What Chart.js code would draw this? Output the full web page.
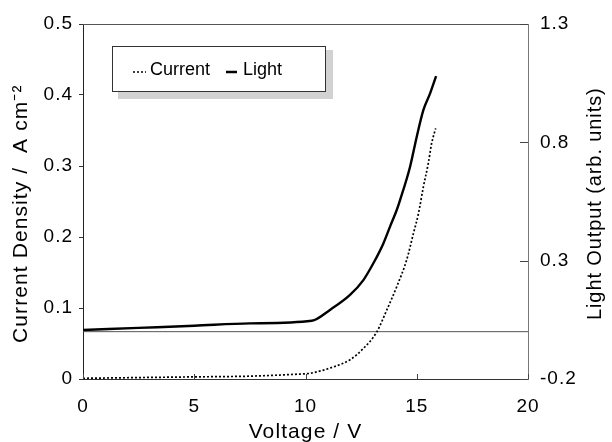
<!DOCTYPE html>
<html><head><meta charset="utf-8">
<script src="https://cdn.jsdelivr.net/npm/chart.js@4/dist/chart.umd.min.js"></script>
<style>html,body{margin:0;padding:0;background:#fff}#wrap{width:612px;height:442px}</style>
</head><body><div id="wrap"><canvas id="c" width="612" height="442"></canvas></div>
<script>
const currentVoltage = [0, 2.5, 5, 7.5, 9.75, 10.2, 11.25, 12.0, 12.6, 13.2, 13.65, 14.1, 14.55, 14.85, 15.07, 15.3, 15.52, 15.67, 15.85];
const currentDensity = [0.001, 0.002, 0.003, 0.004, 0.007, 0.008, 0.017, 0.027, 0.043, 0.066, 0.097, 0.13, 0.168, 0.205, 0.232, 0.271, 0.304, 0.332, 0.353];
const lightVoltage = [0, 2.5, 5, 7.5, 10.28, 11.1, 12.0, 12.6, 13.05, 13.5, 13.8, 14.1, 14.25, 14.7, 15.0, 15.3, 15.6, 15.87];
const lightOutput = [0.007, 0.016, 0.025, 0.035, 0.046, 0.092, 0.155, 0.218, 0.289, 0.373, 0.444, 0.514, 0.556, 0.697, 0.824, 0.937, 1.007, 1.08];
const xTicks = [0, 5, 10, 15, 20];
const leftTicks = [0, 0.1, 0.2, 0.3, 0.4, 0.5];
const rightTicks = [-0.2, 0.3, 0.8, 1.3];
const seriesLabels = ['Current', 'Light'];
const xTitle = 'Voltage / V';
const leftTitle = 'Current Density /  A cm\u207B\u00B2';
const rightTitle = 'Light Output (arb. units)';

const FAM = '"Liberation Sans", Arial, sans-serif';
const TICKFONT = {family: FAM, size: 19};
const TITLEFONT = {family: FAM, size: 21};

function spaced(scale, method, sp) {
  const orig = scale[method];
  scale[method] = function (...args) {
    const ctx = this.ctx;
    const prev = ctx.letterSpacing;
    ctx.letterSpacing = sp;
    const r = orig.apply(this, args);
    ctx.letterSpacing = prev || '0px';
    return r;
  };
}

function vText(ctx, text, x, y, size, sp) {
  ctx.save();
  ctx.translate(x, y);
  ctx.rotate(-Math.PI / 2);
  ctx.fillStyle = '#000';
  ctx.font = size + 'px ' + FAM;
  ctx.letterSpacing = sp;
  ctx.textAlign = 'left'; ctx.textBaseline = 'middle';
  ctx.fillText(text, 0, 0);
  ctx.restore();
}

const frame = {
  id: 'frame',
  beforeDraw(chart) {
    if (chart.$spaced) return;
    chart.$spaced = true;
    const s = chart.scales;
    spaced(s.x, 'drawLabels', '1px');
    spaced(s.y, 'drawLabels', '1px');
    spaced(s.y1, 'drawLabels', '1px');
    spaced(s.x, 'drawTitle', '1.1px');
  },
  afterDraw(chart) {
    const {ctx, chartArea: a, scales} = chart;
    ctx.save();
    // top border
    ctx.strokeStyle = '#555'; ctx.lineWidth = 1;
    ctx.beginPath(); ctx.moveTo(a.left, a.top + 0.5); ctx.lineTo(a.right, a.top + 0.5); ctx.stroke();
    // inward ticks on right axis
    ctx.strokeStyle = '#444';
    rightTicks.forEach(v => {
      const y = Math.round(scales.y1.getPixelForValue(v)) + 0.5;
      ctx.beginPath(); ctx.moveTo(a.right - 8, y); ctx.lineTo(a.right, y); ctx.stroke();
    });
    // inward ticks on x axis
    xTicks.forEach(v => {
      const x = Math.round(scales.x.getPixelForValue(v)) + 0.5;
      ctx.beginPath(); ctx.moveTo(x, a.bottom - 5); ctx.lineTo(x, a.bottom); ctx.stroke();
    });
    // vertical axis titles, reading bottom to top
    vText(ctx, leftTitle, 21, 343, 21, '1.1px');
    vText(ctx, rightTitle, 595, 320, 20, '0.9px');
    // legend box
    const bx = 112, by = 46, bw = 213, bh = 45;
    ctx.fillStyle = '#d2d2d2';
    ctx.fillRect(bx + 6, by + bh, bw + 2, 8);
    ctx.fillRect(bx + bw, by + 4, 8, bh + 4);
    ctx.fillStyle = '#fff';
    ctx.fillRect(bx, by, bw, bh);
    ctx.strokeStyle = '#333'; ctx.lineWidth = 1;
    ctx.strokeRect(bx + 0.5, by + 0.5, bw, bh);
    const ly = by + 24;
    ctx.strokeStyle = '#000';
    ctx.lineWidth = 1.5; ctx.setLineDash([2, 2]);
    ctx.beginPath(); ctx.moveTo(133, ly + 2); ctx.lineTo(146, ly + 2); ctx.stroke();
    ctx.setLineDash([]); ctx.lineWidth = 2.5;
    ctx.beginPath(); ctx.moveTo(226, ly + 2); ctx.lineTo(237, ly + 2); ctx.stroke();
    ctx.fillStyle = '#000';
    ctx.font = '18px ' + FAM;
    ctx.letterSpacing = '0px';
    ctx.textBaseline = 'middle'; ctx.textAlign = 'left';
    ctx.fillText(chart.data.datasets[0].label, 150, ly);
    ctx.fillText(chart.data.datasets[1].label, 243, ly);
    ctx.restore();
  }
};

new Chart(document.getElementById('c'), {
  type: 'line',
  data: {
    datasets: [
      {label: seriesLabels[0], data: currentVoltage.map((v, i) => ({x: v, y: currentDensity[i]})),
       borderColor: '#000', borderWidth: 1.7, borderDash: [2, 2], pointRadius: 0, cubicInterpolationMode: 'monotone', yAxisID: 'y'},
      {label: seriesLabels[1], data: lightVoltage.map((v, i) => ({x: v, y: lightOutput[i]})),
       borderColor: '#000', borderWidth: 2.4, pointRadius: 0, cubicInterpolationMode: 'monotone', yAxisID: 'y1'},
      {label: 'zero', data: [{x: 0, y: 0}, {x: 20, y: 0}],
       borderColor: '#555', borderWidth: 1, pointRadius: 0, yAxisID: 'y1'}
    ]
  },
  options: {
    responsive: false, animation: false,
    layout: {padding: {top: 24, left: 0, right: 0, bottom: 0}},
    plugins: {legend: {display: false}, tooltip: {enabled: false}},
    scales: {
      x: {
        type: 'linear', min: 0, max: 20,
        afterBuildTicks: s => { s.ticks = xTicks.map(v => ({value: v})); },
        afterFit: s => { s.height = 63; },
        grid: {drawOnChartArea: false, drawTicks: false},
        border: {color: '#333', width: 1},
        ticks: {font: TICKFONT, color: '#000', padding: 16, maxRotation: 0},
        title: {display: true, text: xTitle, font: TITLEFONT, color: '#000', padding: {top: 0, bottom: -3}}
      },
      y: {
        type: 'linear', position: 'left', min: 0, max: 0.5,
        afterBuildTicks: s => { s.ticks = leftTicks.map(v => ({value: v})); },
        afterFit: s => { s.width = 83; },
        grid: {drawOnChartArea: false, tickLength: 4, color: '#333'},
        border: {color: '#222', width: 1},
        ticks: {font: TICKFONT, color: '#000', padding: 6, callback: v => String(v)},
        title: {display: false}
      },
      y1: {
        type: 'linear', position: 'right', min: -0.2, max: 1.3,
        afterBuildTicks: s => { s.ticks = rightTicks.map(v => ({value: v})); },
        afterFit: s => { s.width = 84; },
        grid: {drawOnChartArea: false, drawTicks: false},
        border: {color: '#777', width: 1},
        ticks: {font: TICKFONT, color: '#000', padding: 12, callback: v => String(v)},
        title: {display: false}
      }
    }
  },
  plugins: [frame]
});
</script></body></html>
